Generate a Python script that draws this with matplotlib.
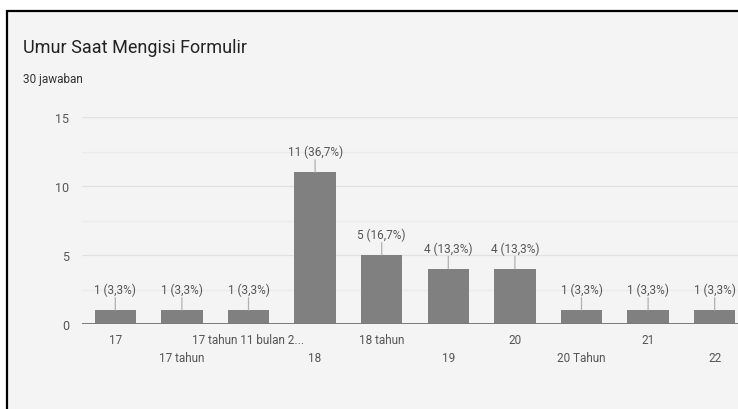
#!/usr/bin/env python3
"""Google Forms style bar chart: Umur Saat Mengisi Formulir."""

import matplotlib
matplotlib.use("Agg")
import matplotlib.pyplot as plt
from matplotlib.patches import Rectangle
import numpy as np

categories = ["17", "17 tahun", "17 tahun 11 bulan 2...", "18", "18 tahun",
              "19", "20", "20 Tahun", "21", "22"]
counts = [1, 1, 1, 11, 5, 4, 4, 1, 1, 1]
total = 30
yticks = [0, 5, 10, 15]

title = "Umur Saat Mengisi Formulir"
subtitle = f"{total} jawaban"

BG = "#f4f4f4"
BAR = "#808080"
TXT = "#555555"

plt.rcParams["font.family"] = ["Roboto", "DejaVu Sans"]

fig = plt.figure(figsize=(7.38, 4.10), dpi=100)
fig.patch.set_facecolor("white")

# document frame around the screenshot
frame = Rectangle((7 / 738, -0.1), 1.2, 1 - 12 / 410 + 0.1, transform=fig.transFigure,
                  facecolor=BG, edgecolor="black", linewidth=1.6, zorder=-5)
fig.patches.append(frame)

fig.text(23 / 738, 1 - 48 / 410, title, fontsize=13, color="#222222", va="center")
fig.text(23 / 738, 1 - 80 / 410, subtitle, fontsize=8.5, color="#333333", va="center")

ax = fig.add_axes([82 / 738, 1 - 325 / 410, 666 / 738, 207 / 410])
ax.set_facecolor(BG)
x = np.arange(len(categories))
ax.bar(x, counts, width=0.62, color=BAR, zorder=3)

ax.set_xlim(-0.5, len(categories) - 0.5)
ax.set_ylim(0, 15)
ax.set_yticks(yticks)
ax.set_yticklabels([str(t) for t in yticks], fontsize=9, color=TXT)
for v in np.arange(0, 15.1, 2.5):
    major = v % 5 == 0
    ax.axhline(v, color="#e2e2e2" if major else "#ebebeb", linewidth=0.9, zorder=1)
ax.axhline(0, color="#7a7a7a", linewidth=1.4, zorder=4)

for s in ax.spines.values():
    s.set_visible(False)
ax.tick_params(axis="both", length=0)
ax.tick_params(axis="y", pad=9)

ax.set_xticks([])
for i, (cat, c) in enumerate(zip(categories, counts)):
    row = i % 2
    ax.annotate(cat, (i, 0), xytext=(0, -11 - row * 13), textcoords="offset points",
                ha="center", va="center", fontsize=8.5, color=TXT, annotation_clip=False)
    pct = f"{100 * c / total:.1f}".replace(".", ",")
    ax.annotate("", (i, c), xytext=(0, 9), textcoords="offset points",
                arrowprops=dict(arrowstyle="-", color="#b0b0b0", lw=0.9,
                                shrinkA=0, shrinkB=0), annotation_clip=False)
    ax.annotate(f"{c} ({pct}%)", (i, c), xytext=(0, 15), textcoords="offset points",
                ha="center", va="center", fontsize=8.5, color=TXT, annotation_clip=False)

fig.savefig("out.png", dpi=100, facecolor=fig.get_facecolor())
